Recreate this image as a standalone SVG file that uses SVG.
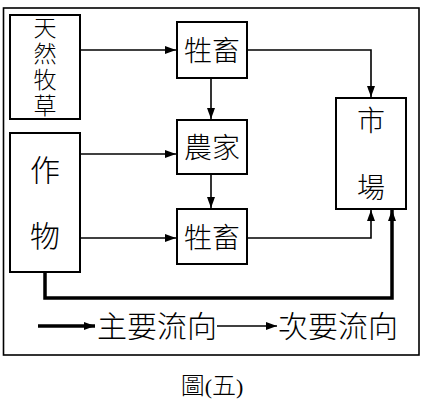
<svg xmlns="http://www.w3.org/2000/svg" width="429" height="410" viewBox="0 0 429 410">
<style>
.box{fill:#fff;stroke:#000;stroke-width:2}
.t{font-family:"Noto Sans CJK TC","Noto Sans CJK SC",sans-serif;font-weight:300;fill:#000;text-anchor:middle}
.ln{fill:none;stroke:#000;stroke-width:1.6}
.thk{fill:none;stroke:#000;stroke-width:3.5}
</style>
<defs>
<marker id="ah" markerWidth="12" markerHeight="10" refX="11" refY="5" orient="auto" markerUnits="userSpaceOnUse">
<path d="M0,1 L11,5 L0,9 Z" fill="#000"/>
</marker>
</defs>
<rect width="429" height="410" fill="#fff"/>
<rect x="3.5" y="8" width="415.5" height="347" fill="none" stroke="#000" stroke-width="1.6"/>
<g id="grass"><rect class="box" x="10" y="15" width="70" height="104"/>
<text class="t" x="45" y="16" font-size="23" writing-mode="vertical-rl" style="text-anchor:start" letter-spacing="3">天然牧草</text></g>
<g id="crop"><rect class="box" x="10" y="133" width="70" height="139"/>
<text class="t" x="45" y="181" font-size="30">作</text>
<text class="t" x="45" y="247" font-size="30">物</text></g>
<g id="livestock1"><rect class="box" x="177" y="22" width="70" height="56"/>
<text class="t" x="212" y="61" font-size="28">牲畜</text></g>
<g id="farm"><rect class="box" x="177" y="120" width="70" height="54"/>
<text class="t" x="212" y="158" font-size="28">農家</text></g>
<g id="livestock2"><rect class="box" x="177" y="209" width="70" height="55"/>
<text class="t" x="212" y="248" font-size="28">牲畜</text></g>
<g id="market"><rect class="box" x="336" y="98" width="70" height="111"/>
<text class="t" x="371" y="131" font-size="28">市</text>
<text class="t" x="371" y="198" font-size="28">場</text></g>
<g id="connectors">
<path class="ln" d="M80,50 H176" marker-end="url(#ah)"/>
<path class="ln" d="M80,154 H176" marker-end="url(#ah)"/>
<path class="ln" d="M80,238 H176" marker-end="url(#ah)"/>
<path class="ln" d="M211,78 V119" marker-end="url(#ah)"/>
<path class="ln" d="M211,174 V208" marker-end="url(#ah)"/>
<path class="ln" d="M247,50 H371 V97" marker-end="url(#ah)"/>
<path class="ln" d="M247,238 H371 V210" marker-end="url(#ah)"/>
<path class="thk" d="M45,272 V298 H392 V210" marker-end="url(#ah)"/>
</g>
<g id="legend">
<path class="thk" d="M38,326 H95" marker-end="url(#ah)"/>
<text class="t" x="157" y="337" font-size="30">主要流向</text>
<path class="ln" d="M217,326 H277" marker-end="url(#ah)"/>
<text class="t" x="338" y="337" font-size="30">次要流向</text>
</g>
<text class="t" x="212" y="394" font-size="24">圖<tspan font-family="Liberation Serif" font-size="22">(</tspan>五<tspan font-family="Liberation Serif" font-size="22">)</tspan></text>
</svg>
